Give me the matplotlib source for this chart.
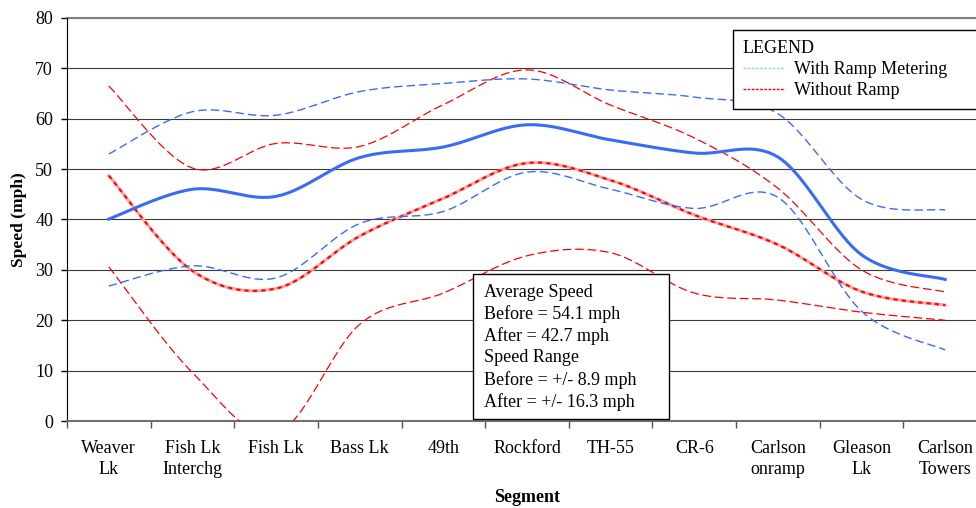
import numpy as np
import matplotlib
matplotlib.use('Agg')
import matplotlib.pyplot as plt
from matplotlib.lines import Line2D
from matplotlib.patches import Rectangle

plt.rcParams['font.family'] = ['Liberation Serif', 'DejaVu Serif']

segments = ['Weaver\nLk', 'Fish Lk\nInterchg', 'Fish Lk', 'Bass Lk', '49th', 'Rockford',
            'TH-55', 'CR-6', 'Carlson\nonramp', 'Gleason\nLk', 'Carlson\nTowers']

# with ramp metering: average and +/- range
with_mean = [40.1, 46.0, 44.6, 52.3, 54.4, 58.8, 55.8, 53.2, 52.4, 33.0, 28.1]
with_upper = [53.0, 61.4, 60.7, 65.4, 67.0, 67.9, 65.7, 64.3, 61.0, 44.0, 41.9]
with_lower = [26.8, 30.8, 28.4, 39.2, 41.6, 49.4, 46.0, 42.2, 44.4, 21.8, 14.1]

# without ramp metering
without_mean = [48.7, 29.8, 26.3, 36.7, 44.2, 51.2, 47.8, 40.9, 35.0, 25.7, 23.0]
without_upper = [66.5, 50.2, 55.1, 54.5, 62.8, 69.7, 62.7, 56.2, 46.2, 30.0, 25.6]
without_lower = [30.6, 9.6, -2.5, 19.2, 25.4, 32.8, 33.4, 25.4, 24.0, 21.6, 20.0]

note_lines = ['Average Speed', 'Before = 54.1 mph', 'After = 42.7 mph',
              'Speed Range', 'Before = +/- 8.9 mph', 'After = +/- 16.3 mph']

BLUE = '#3A6BF5'
RED = '#FF0000'


def smooth(y, steps=25):
    """Excel-style smoothed line (cubic bezier through the points)."""
    y = np.asarray(y, float)
    x = np.arange(len(y), dtype=float)
    px = np.concatenate([[x[0]], x, [x[-1]]])
    py = np.concatenate([[y[0]], y, [y[-1]]])
    t = np.linspace(0, 1, steps)
    xs, ys = [], []
    for i in range(len(y) - 1):
        j = i + 1
        p0 = np.array([px[j], py[j]])
        p3 = np.array([px[j + 1], py[j + 1]])
        c1 = p0 + (np.array([px[j + 1], py[j + 1]]) - np.array([px[j - 1], py[j - 1]])) / 6
        c2 = p3 - (np.array([px[j + 2], py[j + 2]]) - np.array([px[j], py[j]])) / 6
        pts = (np.outer((1 - t) ** 3, p0) + np.outer(3 * (1 - t) ** 2 * t, c1)
               + np.outer(3 * (1 - t) * t ** 2, c2) + np.outer(t ** 3, p3))
        xs.extend(pts[:, 0])
        ys.extend(pts[:, 1])
    return np.array(xs), np.array(ys)


fig = plt.figure(figsize=(9.76, 5.08), dpi=100)
ax = fig.add_axes([67 / 976, 87 / 508, 920 / 976, 403 / 508])

# lines
ax.plot(*smooth(without_upper), color=RED, lw=0.9, ls=(0, (7, 3)), zorder=3)
ax.plot(*smooth(without_lower), color=RED, lw=0.9, ls=(0, (7, 3)), zorder=3)
xm, ym = smooth(without_mean)
ax.plot(xm, ym, color='#F7A3A3', lw=2.2, zorder=3)
ax.plot(xm, ym, color=RED, lw=1.5, ls=(0, (2, 2)), zorder=3)
ax.plot(*smooth(with_upper), color=BLUE, lw=1.0, ls=(0, (6, 3)), zorder=4)
ax.plot(*smooth(with_lower), color=BLUE, lw=1.0, ls=(0, (6, 3)), zorder=4)
ax.plot(*smooth(with_mean), color=BLUE, lw=2.2, zorder=4)

ax.set_xlim(-0.5, 10.5)
ax.set_ylim(0, 80)
ax.set_yticks(range(0, 81, 10))
ax.grid(axis='y', color='#3a3a3a', lw=0.8)
ax.set_axisbelow(True)

ax.set_xticks(range(len(segments)))
ax.set_xticklabels(segments, linespacing=1.3)
ax.set_xticks(np.arange(-0.5, len(segments), 1), minor=True)
ax.tick_params(axis='x', which='major', length=0, pad=14, labelsize=13)
ax.tick_params(axis='x', which='minor', length=5, color='#555555', width=1)
ax.tick_params(axis='y', length=4, width=1, pad=6, labelsize=13)

for s in ['top', 'right']:
    ax.spines[s].set_visible(False)
ax.spines['left'].set_color('black')
ax.spines['bottom'].set_color('#707070')
ax.spines['bottom'].set_linewidth(1.5)
ax.axhline(80, color='#808080', lw=1.5, zorder=1, clip_on=False)

ax.set_ylabel('Speed (mph)', fontsize=12.5, fontweight='bold')
ax.yaxis.set_label_coords(-0.052, 0.5)
ax.yaxis.label.set_va('center')
ax.set_xlabel('Segment', fontsize=13, fontweight='bold')
ax.xaxis.set_label_coords(0.5, -0.191)
ax.xaxis.label.set_va('center')

# legend
handles = [Line2D([], [], color='#99CCFF', lw=1, ls=(0, (2, 1))),
           Line2D([], [], color=RED, lw=1, ls=(0, (2, 1)))]
leg = ax.legend(handles, ['With Ramp Metering', 'Without Ramp'], title='LEGEND',
                loc='upper left', bbox_to_anchor=(0.724, 0.75, 0.4, 0.22), mode='expand',
                borderaxespad=0, fontsize=13, title_fontsize=13, alignment='left',
                handlelength=2.3, handletextpad=0.5, labelspacing=0.22,
                frameon=True, fancybox=False, edgecolor='black', framealpha=1,
                borderpad=0.55)
leg.get_frame().set_linewidth(1)
leg.set_zorder(10)

# note box
box_left, box_right = 4.354, 6.70
box_top, box_bottom = 29.2, 0.4
ax.add_patch(Rectangle((box_left, box_bottom), box_right - box_left, box_top - box_bottom,
                       facecolor='white', edgecolor='black', lw=1, zorder=8))
ax.text(box_left + 0.13, box_top - 2.0, '\n'.join(note_lines), fontsize=13,
        va='top', ha='left', linespacing=1.31, zorder=9)

fig.savefig('out.png', dpi=100)
